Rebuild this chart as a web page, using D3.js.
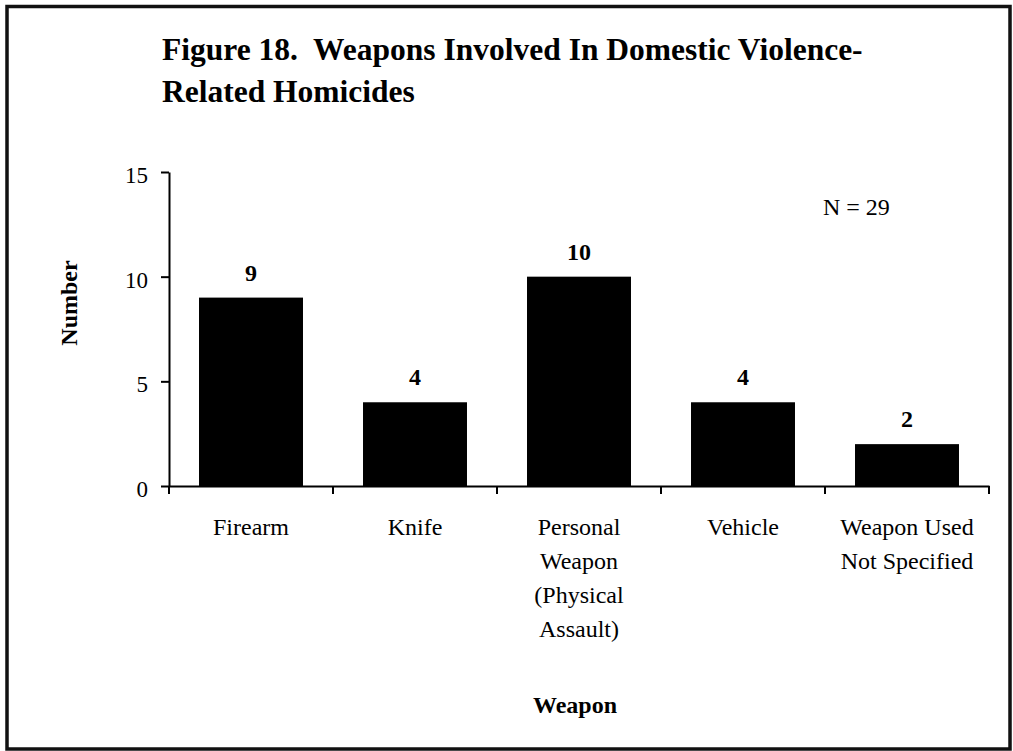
<!DOCTYPE html>
<html>
<head>
<meta charset="utf-8">
<script src="https://cdn.jsdelivr.net/npm/d3@7"></script>
<style>
  html, body { margin: 0; padding: 0; background: #fff; }
  svg { display: block; }
  text { font-family: "Liberation Serif", "Times New Roman", serif; fill: #000; white-space: pre; }
</style>
</head>
<body>
<script>
const categories = ["Firearm", "Knife", "Personal\nWeapon\n(Physical\nAssault)", "Vehicle", "Weapon Used\nNot Specified"];
const values = [9, 4, 10, 4, 2];
const yTicks = [0, 5, 10, 15];
const titleLines = ["Figure 18.  Weapons Involved In Domestic Violence-", "Related Homicides"];
const yTitle = "Number";
const xTitle = "Weapon";
const note = "N = 29";

const W = 1013, H = 751;
const svg = d3.select("body").append("svg").attr("width", W).attr("height", H);

svg.append("rect").attr("x", 7).attr("y", 6.5).attr("width", 1003).attr("height", 742.5)
  .attr("fill", "none").attr("stroke", "#111").attr("stroke-width", 3.5);

const x = d3.scaleBand().domain(categories).range([169, 989]).padding(0);
const y = d3.scaleLinear().domain([0, 15]).range([486, 172]);

// title
const t = svg.append("text").attr("font-size", 31.5).attr("font-weight", "bold").attr("xml:space", "preserve");
titleLines.forEach((l, i) => t.append("tspan").attr("x", 162).attr("y", 60 + i * 42).text(l));

// bars
const barW = x.bandwidth() * 0.634;
svg.append("g").selectAll("rect").data(values).join("rect")
  .attr("x", (d, i) => x(categories[i]) + (x.bandwidth() - barW) / 2)
  .attr("y", d => y(d))
  .attr("width", barW)
  .attr("height", d => y(0) - y(d))
  .attr("fill", "#000");

// value labels
svg.append("g").selectAll("text").data(values).join("text")
  .attr("x", (d, i) => x(categories[i]) + x.bandwidth() / 2)
  .attr("y", d => y(d) - 17)
  .attr("text-anchor", "middle").attr("font-size", 24).attr("font-weight", "bold")
  .text(d => d);

// y axis
const yAxis = svg.append("g").attr("transform", "translate(169,0)")
  .call(d3.axisLeft(y).tickValues(yTicks).tickSize(8).tickPadding(13).tickSizeOuter(0));
yAxis.select(".domain").attr("stroke", "#000").attr("stroke-width", 2);
yAxis.selectAll(".tick line").attr("stroke", "#000").attr("stroke-width", 2);
yAxis.selectAll(".tick text").attr("font-size", 23).attr("font-family", "Liberation Serif, Times New Roman, serif").attr("fill", "#000").attr("dy", "0.45em");

// x axis
const xAxis = svg.append("g").attr("transform", `translate(0,${y(0)})`)
  .call(d3.axisBottom(x).tickSize(0).tickFormat(() => "").tickSizeOuter(0));
xAxis.select(".domain").attr("stroke", "#000").attr("stroke-width", 2);
const bounds = categories.map(c => x(c)).concat([x(categories[categories.length - 1]) + x.bandwidth()]);
xAxis.selectAll("line.bound").data(bounds).join("line").attr("class", "bound")
  .attr("x1", d => d).attr("x2", d => d).attr("y1", 0).attr("y2", 8)
  .attr("stroke", "#000").attr("stroke-width", 2);

// category labels
const cl = svg.append("g").selectAll("text").data(categories).join("text")
  .attr("text-anchor", "middle").attr("font-size", 24);
cl.each(function (d) {
  const el = d3.select(this);
  d.split("\n").forEach((line, i) => {
    el.append("tspan").attr("x", x(d) + x.bandwidth() / 2).attr("y", 535 + i * 34).text(line);
  });
});

// axis titles
svg.append("text").attr("transform", "translate(77,303) rotate(-90)")
  .attr("text-anchor", "middle").attr("font-size", 24).attr("font-weight", "bold").text(yTitle);
svg.append("text").attr("x", 575).attr("y", 713)
  .attr("text-anchor", "middle").attr("font-size", 24).attr("font-weight", "bold").text(xTitle);

// note
svg.append("text").attr("x", 823).attr("y", 215).attr("font-size", 24).text(note);
</script>
</body>
</html>
